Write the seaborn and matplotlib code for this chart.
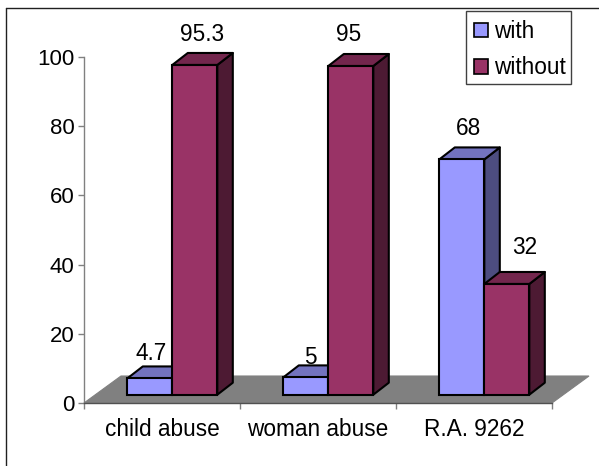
import matplotlib
matplotlib.use('Agg')
import matplotlib.pyplot as plt
import pandas as pd
import seaborn as sns
from matplotlib.lines import Line2D
from matplotlib.patches import Polygon, Rectangle
from matplotlib.transforms import Affine2D

# data
categories = ['child abuse', 'woman abuse', 'R.A. 9262']
with_values = [4.7, 5, 68]
without_values = [95.3, 95, 32]
series_names = ['with', 'without']
y_ticks = [0, 20, 40, 60, 80, 100]

# colours: front, top, side
front_colors = ['#9999FF', '#993366']
top_colors = ['#7373BF', '#73264D']
side_colors = ['#4D4D80', '#4D1A33']

# label nudges in pixels, from the centre of the front top edge
label_nudges = [[(1.5, 24.7), (4.5, 19.6), (7, 31)],
                [(7, 30), (-2, 31), (18, 36)]]

W, H = 599, 466
FS = 16.3

sns.set_theme(style='white')
plt.rcParams['font.family'] = ['Liberation Sans', 'DejaVu Sans']

df = pd.DataFrame({
    'category': categories * 2,
    'series': [series_names[0]] * 3 + [series_names[1]] * 3,
    'value': with_values + without_values,
})

fig = plt.figure(figsize=(W / 100, H / 100), dpi=100)
ax = fig.add_axes([84 / W, (H - 403) / H, 468 / W, 346 / H])

sns.barplot(data=df, x='category', y='value', hue='series',
            palette=front_colors, saturation=1, width=0.577, gap=0,
            edgecolor='black', linewidth=1.5, ax=ax)
handles, labels = ax.get_legend_handles_labels()
ax.get_legend().remove()

ax.set_xlim(-0.5, 2.5)
ax.set_ylim(0, 100)
ax.set_xlabel('')
ax.set_ylabel('')
ax.set_yticks(y_ticks)
sns.despine(ax=ax)

px_x = 3 / 468  # data units per pixel
px_y = 100 / 346

# floor of the fake 3d box
floor = Polygon([(-0.5, 0), (2.5, 0), (2.5 + 37 * px_x, 27 * px_y), (-0.5 + 37 * px_x, 27 * px_y)],
                facecolor='#808080', edgecolor='#808080', lw=0.8, zorder=1, clip_on=False)
ax.add_patch(floor)

# bars stand a little way into the box
shift = Affine2D().translate(10.3, 8.3)
bar_trans = ax.transData + shift
dx = 15.5 * px_x
dy = 12 * px_y

for i, container in enumerate(ax.containers):
    z = 3 + i
    for j, bar in enumerate(container):
        x0 = bar.get_x()
        x1 = x0 + bar.get_width()
        h = bar.get_height()
        bar.set_transform(bar_trans)
        bar.set_zorder(z + 0.2)
        bar.set_clip_on(False)
        side = Polygon([(x1, 0), (x1 + dx, dy), (x1 + dx, h + dy), (x1, h)],
                       facecolor=side_colors[i], edgecolor='black', lw=1.5,
                       transform=bar_trans, zorder=z, clip_on=False, joinstyle='round')
        top = Polygon([(x0, h), (x0 + dx, h + dy), (x1 + dx, h + dy), (x1, h)],
                      facecolor=top_colors[i], edgecolor='black', lw=1.5,
                      transform=bar_trans, zorder=z + 0.1, clip_on=False, joinstyle='round')
        ax.add_patch(side)
        ax.add_patch(top)
        nx, ny = label_nudges[i][j]
        ax.annotate(f'{h:g}', xy=((x0 + x1) / 2 + 10.3 * px_x, h + 8.3 * px_y),
                    xytext=(nx, ny), textcoords='offset pixels', ha='center', va='center',
                    fontsize=FS, color='black', zorder=10, annotation_clip=False)

ax.spines['left'].set_color('#808080')
ax.spines['bottom'].set_color('#505050')
for s in ['left', 'bottom']:
    ax.spines[s].set_linewidth(1)
    ax.spines[s].set_zorder(2)

# ticks sit between the categories, labels in the middle
ax.set_xticks([-0.5, 0.5, 1.5, 2.5], minor=True)
ax.tick_params(axis='x', which='major', length=0, labelsize=FS, pad=11, labelcolor='black')
ax.tick_params(axis='x', which='minor', length=4, width=1, color='#808080', bottom=True)
ax.tick_params(axis='y', length=4, width=1, color='#808080', left=True, labelsize=16, pad=3, labelcolor='black')

# legend box drawn by hand so it can sit tight around the rows
fig.add_artist(Rectangle((466 / W, 1 - 84 / H), 105 / W, 73 / H, transform=fig.transFigure,
                         facecolor='white', edgecolor='#404040', lw=1, zorder=5))
leg = fig.legend(handles, labels, loc='upper left', bbox_to_anchor=(466 / W, 1 - 11.7 / H),
                 bbox_transform=fig.transFigure, borderaxespad=0, fontsize=FS,
                 frameon=False, handlelength=0.6, handleheight=0.6, handletextpad=0.3,
                 labelspacing=0.6, borderpad=0.36, labelcolor='black')
leg.set_zorder(6)
for p in leg.get_patches():
    p.set_linewidth(1.2)
    p.set_edgecolor('black')

# outer chart frame, only left and top show
fig.add_artist(Line2D([6 / W, 6 / W], [0, 1 - 8 / H], color='#202020', lw=1))
fig.add_artist(Line2D([6 / W, 1], [1 - 8 / H, 1 - 8 / H], color='#202020', lw=1))

fig.savefig('out.png', dpi=100)
